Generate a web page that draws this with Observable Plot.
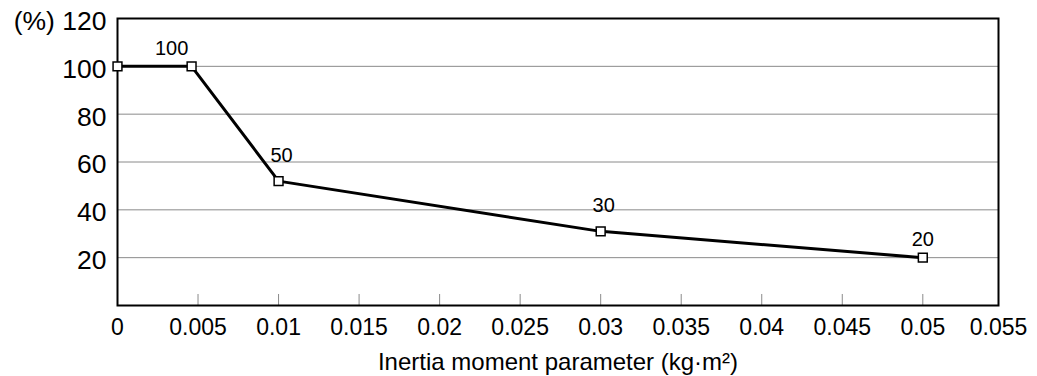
<!DOCTYPE html>
<html>
<head>
<meta charset="utf-8">
<script src="https://cdn.jsdelivr.net/npm/d3@7"></script>
<script src="https://cdn.jsdelivr.net/npm/@observablehq/plot@0.6"></script>
<style>
  html, body { margin: 0; padding: 0; background: #fff; }
  #chart { width: 1037px; height: 376px; }
</style>
</head>
<body>
<div id="chart"></div>
<script>
// ---- data ----
const xValues = [0, 0.0046, 0.01, 0.03, 0.05];
const yValues = [100, 100, 52, 31, 20];
const pointLabels = ["", "100", "50", "30", "20"];
const xTickValues = [0, 0.005, 0.01, 0.015, 0.02, 0.025, 0.03, 0.035, 0.04, 0.045, 0.05, 0.055];
const xTickLabels = ["0", "0.005", "0.01", "0.015", "0.02", "0.025", "0.03", "0.035", "0.04", "0.045", "0.05", "0.055"];
const yTickValues = [20, 40, 60, 80, 100, 120];
const yTickLabels = ["20", "40", "60", "80", "100", "(%) 120"];
const xTitle = "Inertia moment parameter (kg\u00b7m\u00b2)";

const xMax = 0.0547;
const points = xValues.map((x, i) => ({x, y: yValues[i], label: pointLabels[i]}));
const xTicks = xTickValues.map((v, i) => ({v, label: xTickLabels[i]}));
const yTicks = yTickValues.map((v, i) => ({v, label: yTickLabels[i]}));
const innerXTicks = xTickValues.filter(v => v > 0 && v < xMax);
const gridY = yTickValues.filter(v => v < 120);

const chart = Plot.plot({
  width: 1037,
  height: 376,
  marginLeft: 117,
  marginRight: 39,
  marginTop: 18,
  marginBottom: 71,
  style: {fontFamily: "'Liberation Sans', Arial, sans-serif", background: "#fff", color: "#000"},
  x: {domain: [0, xMax], axis: null},
  y: {domain: [0, 120], axis: null},
  marks: [
    Plot.ruleY(gridY, {y: d => d, stroke: "#8a8a8a", strokeWidth: 1}),
    Plot.ruleX(innerXTicks, {x: d => d, y1: 0, y2: 4.6, stroke: "#8a8a8a", strokeWidth: 1}),
    Plot.frame({stroke: "#000", strokeWidth: 2}),
    Plot.line(points, {x: "x", y: "y", stroke: "#000", strokeWidth: 3}),
    Plot.dot(points, {x: "x", y: "y", symbol: "square", r: 5, fill: "#fff", stroke: "#000", strokeWidth: 1.5}),
    Plot.text(points.filter(d => d.label === "100"), {x: "x", y: "y", text: "label", dx: -20, dy: -18, fontSize: 20, fill: "#000"}),
    Plot.text(points.filter(d => d.label === "50" || d.label === "30"), {x: "x", y: "y", text: "label", dx: 3, dy: -26, fontSize: 20, fill: "#000"}),
    Plot.text(points.filter(d => d.label === "20"), {x: "x", y: "y", text: "label", dx: 0, dy: -18, fontSize: 20, fill: "#000"}),
    Plot.text(yTicks, {y: "v", text: "label", frameAnchor: "left", textAnchor: "end", lineAnchor: "middle", dx: -11, dy: 3, fontSize: 26.5, fill: "#000"}),
    Plot.text(xTicks, {x: d => Math.min(d.v, xMax), text: "label", frameAnchor: "bottom", lineAnchor: "middle", dy: 22, fontSize: 23, fill: "#000"}),
    Plot.text([xTitle], {text: d => d, frameAnchor: "bottom", lineAnchor: "middle", dy: 57, fontSize: 24, fill: "#000"})
  ]
});
document.getElementById("chart").appendChild(chart);
</script>
</body>
</html>
